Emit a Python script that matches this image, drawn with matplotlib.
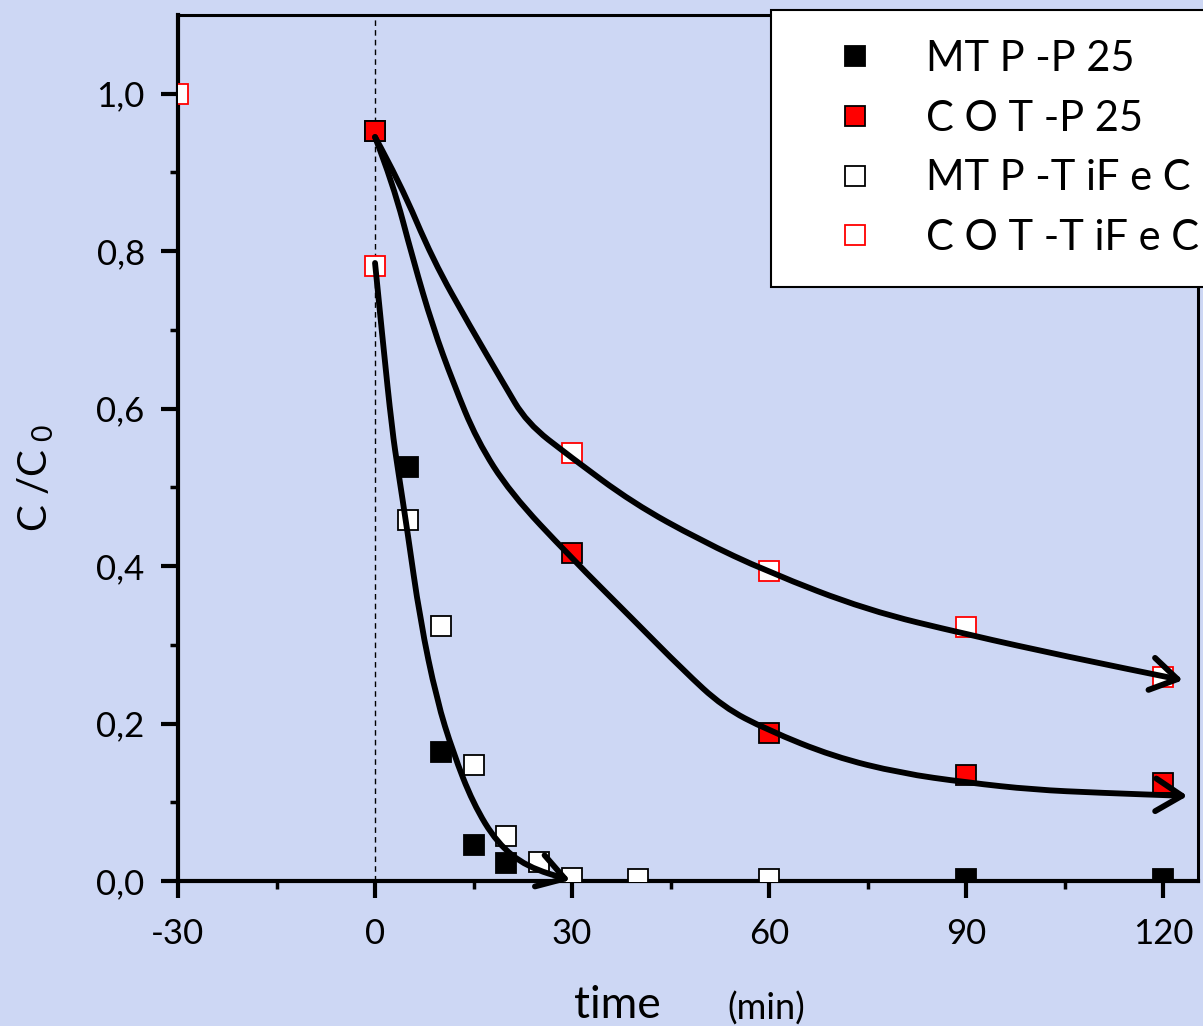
#!/usr/bin/env python3
"""
C/C0 vs time for MTP and COT over P25 and TiFeC, with hand-drawn trend arrows.
"""

import matplotlib
matplotlib.use("Agg")
import matplotlib.pyplot as plt
from matplotlib import rcParams
from matplotlib.lines import Line2D
from matplotlib.patches import FancyArrowPatch
from matplotlib.path import Path

OUTPUT_PNG = "out.png"

# measured points (time in min, C/C0)
T_MTP_P25 = [0, 5, 10, 15, 20, 90, 120]
C_MTP_P25 = [0.953, 0.526, 0.164, 0.046, 0.023, 0.003, 0.003]

T_COT_P25 = [0, 30, 60, 90, 120]
C_COT_P25 = [0.953, 0.417, 0.188, 0.135, 0.125]

T_MTP_TIFEC = [5, 10, 15, 20, 25, 30, 40, 60]
C_MTP_TIFEC = [0.459, 0.324, 0.147, 0.057, 0.024, 0.004, 0.003, 0.003]

T_COT_TIFEC = [-30, 0, 30, 60, 90, 120]
C_COT_TIFEC = [1.0, 0.781, 0.544, 0.394, 0.323, 0.259]

# trend arrows
CURVE_FAST_T = [0, 1.2, 2.6, 3.5, 4.9, 6.85, 9.4, 11.9, 14.9, 18.6, 23.1, 29.7]
CURVE_FAST_C = [0.785, 0.684, 0.573, 0.522, 0.446, 0.332, 0.230, 0.163,
                0.099, 0.048, 0.018, 0.001]

CURVE_MID_T = [0, 2.7, 5.8, 8.8, 11.9, 15.5, 20.6, 29.7, 39.3, 46.9, 53.0,
               59.7, 69.8, 80, 90.2, 100.2, 110.4, 123.7]
CURVE_MID_C = [0.945, 0.887, 0.789, 0.704, 0.633, 0.560, 0.493, 0.412, 0.332,
               0.268, 0.221, 0.192, 0.158, 0.137, 0.125, 0.116, 0.112, 0.108]

CURVE_TOP_T = [0, 3.8, 8.8, 14.5, 19.5, 23.1, 29.7, 39.3, 49.5, 59.7, 74.9,
               90.2, 105.4, 123.0]
CURVE_TOP_C = [0.945, 0.887, 0.789, 0.704, 0.633, 0.582, 0.539, 0.480, 0.433,
               0.393, 0.344, 0.313, 0.285, 0.255]

X_TICKS = [-30, 0, 30, 60, 90, 120]
Y_TICKS = [0.0, 0.2, 0.4, 0.6, 0.8, 1.0]
Y_TICKLABELS = ["0,0", "0,2", "0,4", "0,6", "0,8", "1,0"]

LABELS = ["MT P -P 25", "C O T -P 25", "MT P -T iF e C", "C O T -T iF e C"]

BG = "#cdd7f4"
RED = "#ff0000"


def setup_style():
    rcParams.update({
        "font.family": ["Lato", "DejaVu Sans"],
        "mathtext.fontset": "custom",
        "mathtext.rm": "Lato",
        "mathtext.it": "Lato",
        "font.size": 24,
        "axes.linewidth": 3.0,
        "axes.unicode_minus": False,
    })


def smooth_path(ts, cs):
    """Quadratic Bezier through midpoints of the traced polyline."""
    pts = list(zip(ts, cs))
    verts = [pts[0]]
    codes = [Path.MOVETO]
    for i in range(1, len(pts) - 1):
        mid = ((pts[i][0] + pts[i + 1][0]) / 2, (pts[i][1] + pts[i + 1][1]) / 2)
        verts += [pts[i], mid]
        codes += [Path.CURVE3, Path.CURVE3]
    verts.append(pts[-1])
    codes.append(Path.LINETO)
    return Path(verts, codes)


def main():
    setup_style()

    fig = plt.figure(figsize=(12.03, 10.26), dpi=100, facecolor=BG)
    ax = fig.add_axes([178 / 1203, 1 - 881 / 1026,
                       (1198 - 178) / 1203, (881 - 15) / 1026])
    ax.set_facecolor(BG)

    ax.axvline(0, color="black", linewidth=1.0, linestyle=(0, (4, 3)),
               zorder=1)

    mk = dict(linestyle="none", marker="s", markersize=15,
              markeredgewidth=1.3, zorder=3)
    ax.plot(T_MTP_P25, C_MTP_P25, markerfacecolor="black",
            markeredgecolor="black", **mk)
    ax.plot(T_MTP_TIFEC, C_MTP_TIFEC, markerfacecolor="white",
            markeredgecolor="black", **mk)
    ax.plot(T_COT_TIFEC, C_COT_TIFEC, markerfacecolor="white",
            markeredgecolor=RED, **mk)
    ax.plot(T_COT_P25, C_COT_P25, markerfacecolor=RED,
            markeredgecolor="black", **mk)

    for ts, cs in [(CURVE_FAST_T, CURVE_FAST_C),
                   (CURVE_MID_T, CURVE_MID_C),
                   (CURVE_TOP_T, CURVE_TOP_C)]:
        arrow = FancyArrowPatch(path=smooth_path(ts, cs),
                                arrowstyle="->,head_length=0.45,head_width=0.28",
                                mutation_scale=42, linewidth=4.2,
                                color="black", zorder=5, clip_on=False,
                                joinstyle="round", capstyle="round")
        ax.add_patch(arrow)

    ax.set_xlim(-30, 125.3)
    ax.set_ylim(0.0, 1.1)
    ax.set_xticks(X_TICKS)
    ax.set_xticks([-15, 15, 45, 75, 105], minor=True)
    ax.set_yticks(Y_TICKS)
    ax.set_yticklabels(Y_TICKLABELS)
    ax.set_yticks([0.1, 0.3, 0.5, 0.7, 0.9], minor=True)
    ax.tick_params(axis="both", which="major", direction="out", length=12,
                   width=3, labelsize=25)
    ax.tick_params(axis="both", which="minor", direction="out", length=6,
                   width=2.5)
    ax.tick_params(axis="x", which="major", pad=15)
    ax.tick_params(axis="y", which="major", pad=12)
    ax.spines["right"].set_linewidth(2.2)
    ax.spines["top"].set_linewidth(2.2)

    fig.text(574 / 1203, 1 - 1006 / 1026, "time", fontsize=32,
             ha="left", va="center")
    fig.text(727 / 1203, 1 - 1009 / 1026, "(min)", fontsize=26,
             ha="left", va="center")
    fig.text(36 / 1203, 1 - 478 / 1026, r"C /C$_{\mathregular{\ 0}}$",
             fontsize=29, rotation=90, ha="center", va="center")

    handles = [
        Line2D([0], [0], linestyle="none", marker="s", markersize=15,
               markerfacecolor="black", markeredgecolor="black",
               markeredgewidth=1.3),
        Line2D([0], [0], linestyle="none", marker="s", markersize=15,
               markerfacecolor=RED, markeredgecolor="black",
               markeredgewidth=1.3),
        Line2D([0], [0], linestyle="none", marker="s", markersize=15,
               markerfacecolor="white", markeredgecolor="black",
               markeredgewidth=1.3),
        Line2D([0], [0], linestyle="none", marker="s", markersize=15,
               markerfacecolor="white", markeredgecolor=RED,
               markeredgewidth=1.3),
    ]
    leg = fig.legend(handles=handles, labels=LABELS, loc="upper left",
                     bbox_to_anchor=(771 / 1203, 1 - 10 / 1026),
                     fontsize=30, frameon=True, fancybox=False,
                     framealpha=1.0, facecolor="white", edgecolor="black",
                     borderpad=0.72, labelspacing=0.52, handlelength=2.6,
                     handletextpad=0.4, borderaxespad=0.0)
    leg.get_frame().set_linewidth(1.5)
    leg.set_zorder(10)

    fig.savefig(OUTPUT_PNG, dpi=100, facecolor=BG)
    plt.close(fig)


if __name__ == "__main__":
    main()
